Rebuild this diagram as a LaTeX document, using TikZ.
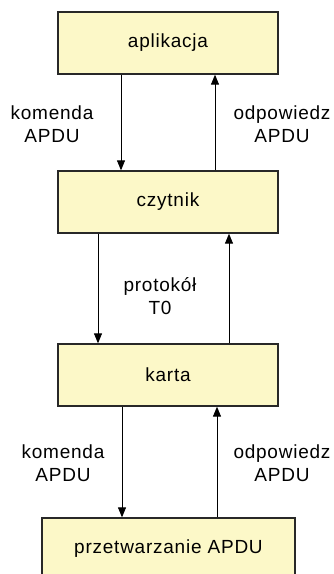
\documentclass[tikz,border=0pt]{standalone}
\usepackage{fontspec}
\setmainfont[LetterSpace=4]{Liberation Sans}
\usetikzlibrary{arrows.meta}
\definecolor{boxfill}{RGB}{252,248,200}
\definecolor{boxline}{RGB}{40,40,40}
\tikzset{
  block/.style={draw=boxline, line width=1.3pt, fill=boxfill, minimum height=62pt,
    inner sep=0pt, font=\fontsize{19}{23}\selectfont},
  flow/.style={line width=1pt, -{Triangle[width=8pt,length=10pt]}},
  note/.style={align=center, inner sep=0pt, font=\fontsize{19}{23}\selectfont}
}
\begin{document}
\begin{tikzpicture}[x=1pt, y=-1pt]
\useasboundingbox (0,0) rectangle (333,574);
\node[block, minimum width=220pt] (app)  at (168,43)  {aplikacja};
\node[block, minimum width=220pt] (read) at (168,202) {czytnik};
\node[block, minimum width=220pt] (card) at (168,375) {karta};
\node[block, minimum width=253pt] (proc) at (168.5,549) {przetwarzanie APDU};

\draw[flow] (app.south -| 121,0) -- (read.north -| 121,0);
\draw[flow] (read.north -| 215,0) -- (app.south -| 215,0);
\draw[flow] (read.south -| 98,0) -- (card.north -| 98,0);
\draw[flow] (card.north -| 229,0) -- (read.south -| 229,0);
\draw[flow] (card.south -| 122,0) -- (proc.north -| 122,0);
\draw[flow] (proc.north -| 217,0) -- (card.south -| 217,0);

\node[note] (cmd1) at (52,124) {komenda\\APDU};
\node[note] (rsp1) at (282,124) {odpowiedz\\APDU};
\node[note] (t0)   at (160,296) {protokół\\T0};
\node[note] (cmd2) at (63,463) {komenda\\APDU};
\node[note] (rsp2) at (282,463) {odpowiedz\\APDU};
\end{tikzpicture}
\end{document}
